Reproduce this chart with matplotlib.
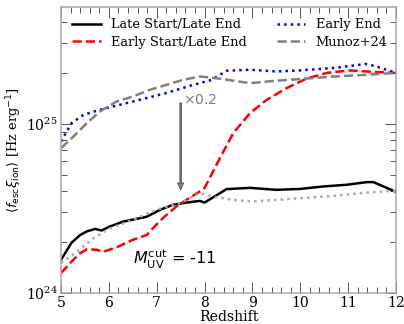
import matplotlib
matplotlib.use("Agg")
import matplotlib.pyplot as plt
from matplotlib.ticker import MultipleLocator, LogLocator, NullFormatter

plt.rcParams["font.family"] = "DejaVu Serif"
plt.rcParams["mathtext.fontset"] = "dejavusans"

# Late Start / Late End
z_late = [5.0, 5.22, 5.4, 5.54, 5.71, 5.85, 6.02, 6.3, 6.79, 7.07, 7.34, 7.62, 7.9,
          8.0, 8.46, 8.95, 9.5, 10.0, 10.48, 10.97, 11.39, 11.53, 11.74, 12.0]
f_late = [1.57e24, 1.98e24, 2.20e24, 2.31e24, 2.39e24, 2.34e24, 2.47e24, 2.64e24, 2.82e24,
          3.10e24, 3.32e24, 3.42e24, 3.50e24, 3.42e24, 4.11e24, 4.18e24, 4.07e24, 4.12e24,
          4.26e24, 4.36e24, 4.52e24, 4.52e24, 4.26e24, 3.96e24]

# Early Start / Late End
z_early_start = [5.0, 5.22, 5.4, 5.54, 5.75, 5.88, 6.16, 6.5, 6.79, 6.99, 7.2, 7.41, 7.62,
                 7.9, 8.0, 8.32, 8.6, 8.95, 9.3, 9.72, 10.13, 10.55, 11.03, 11.38, 12.0]
f_early_start = [1.31e24, 1.53e24, 1.72e24, 1.81e24, 1.80e24, 1.75e24, 1.86e24, 2.06e24,
                 2.20e24, 2.53e24, 2.89e24, 3.24e24, 3.55e24, 3.98e24, 4.17e24, 6.27e24,
                 8.81e24, 1.157e25, 1.387e25, 1.63e25, 1.85e25, 2.00e25, 2.07e25, 2.04e25,
                 2.00e25]

# Early End
z_early_end = [5.0, 5.22, 5.47, 5.81, 6.5, 7.2, 7.76, 7.9, 8.15, 8.46, 8.95, 9.5, 10.0,
               10.7, 11.38, 11.6, 12.0]
f_early_end = [7.86e24, 1.01e25, 1.13e25, 1.21e25, 1.355e25, 1.52e25, 1.70e25, 1.74e25,
               1.82e25, 2.06e25, 2.09e25, 2.04e25, 2.07e25, 2.14e25, 2.26e25, 2.18e25,
               2.00e25]

# Munoz+24
z_munoz = [5.0, 5.26, 5.54, 5.81, 6.16, 6.5, 6.86, 7.2, 7.55, 7.9, 8.32, 8.95, 9.5, 10.0,
           10.7, 11.38, 12.0]
f_munoz = [7.18e24, 8.41e24, 1.01e25, 1.18e25, 1.355e25, 1.45e25, 1.59e25, 1.70e25,
           1.82e25, 1.905e25, 1.85e25, 1.74e25, 1.80e25, 1.84e25, 1.905e25, 1.95e25,
           2.00e25]

# Munoz+24 scaled by 0.2
z_munoz_low = [5.0, 5.33, 5.68, 6.02, 6.5, 6.99, 7.47, 7.9, 8.18, 8.6, 9.0, 9.5, 10.0,
               10.7, 11.38, 12.0]
f_munoz_low = [1.50e24, 1.75e24, 2.11e24, 2.41e24, 2.70e24, 3.10e24, 3.39e24, 3.89e24,
               3.71e24, 3.55e24, 3.47e24, 3.55e24, 3.63e24, 3.75e24, 3.92e24, 4.03e24]

fig = plt.figure(figsize=(404 / 72, 324 / 72), dpi=72)
ax = fig.add_axes([0.151, 0.096, 0.829, 0.882])

ax.plot(z_late, f_late, color="k", lw=2.5, label="Late Start/Late End")
ax.plot(z_early_start, f_early_start, color="red", ls="--", lw=2.5,
        label="Early Start/Late End")
ax.plot(z_early_end, f_early_end, color="blue", ls=":", lw=2.5, label="Early End")
ax.plot(z_munoz, f_munoz, color="gray", ls="--", lw=2.5, label="Munoz+24")
ax.plot(z_munoz_low, f_munoz_low, color="darkgray", ls=":", lw=2.5)

# x0.2 arrow from the Munoz curve down to its scaled copy
ax.annotate("", xy=(7.5, 4.06e24), xytext=(7.5, 1.33e25),
            arrowprops=dict(facecolor="gray", edgecolor="0.3", linewidth=0.8,
                            width=1.5, headwidth=6, headlength=7, shrink=0))
ax.text(7.55, 1.38e25, r"$\times 0.2$", color="gray", fontsize=14,
        ha="left", va="center")
ax.text(6.5, 1.58e24, r"$M_{\rm UV}^{\rm cut}$ = -11", fontsize=16,
        family="DejaVu Sans", ha="left", va="center")

ax.set_yscale("log")
ax.set_xlim(5, 12)
ax.set_ylim(1e24, 4.9e25)
ax.xaxis.set_major_locator(MultipleLocator(1))
ax.xaxis.set_minor_locator(MultipleLocator(0.2))
ax.yaxis.set_minor_locator(LogLocator(base=10, subs=range(2, 10)))
ax.yaxis.set_minor_formatter(NullFormatter())

ax.tick_params(which="both", direction="in", top=True, right=True,
               labelsize=14, color="0.35")
ax.tick_params(which="major", length=11, width=1)
ax.tick_params(which="minor", length=6, width=1)
for sp in ax.spines.values():
    sp.set_color("0.65")
    sp.set_linewidth(1.5)

ax.set_xlabel("Redshift", fontsize=14, labelpad=0)
ax.set_ylabel(r"$\langle f_{\rm esc}\xi_{\rm ion}\rangle$ [Hz erg$^{-1}$]", fontsize=13,
              labelpad=2)

ax.legend(loc="upper left", ncol=2, frameon=False, fontsize=13, handlelength=2.2,
          columnspacing=2.3, borderaxespad=0.45, labelspacing=0.35)

fig.savefig("out.png", dpi=72)
